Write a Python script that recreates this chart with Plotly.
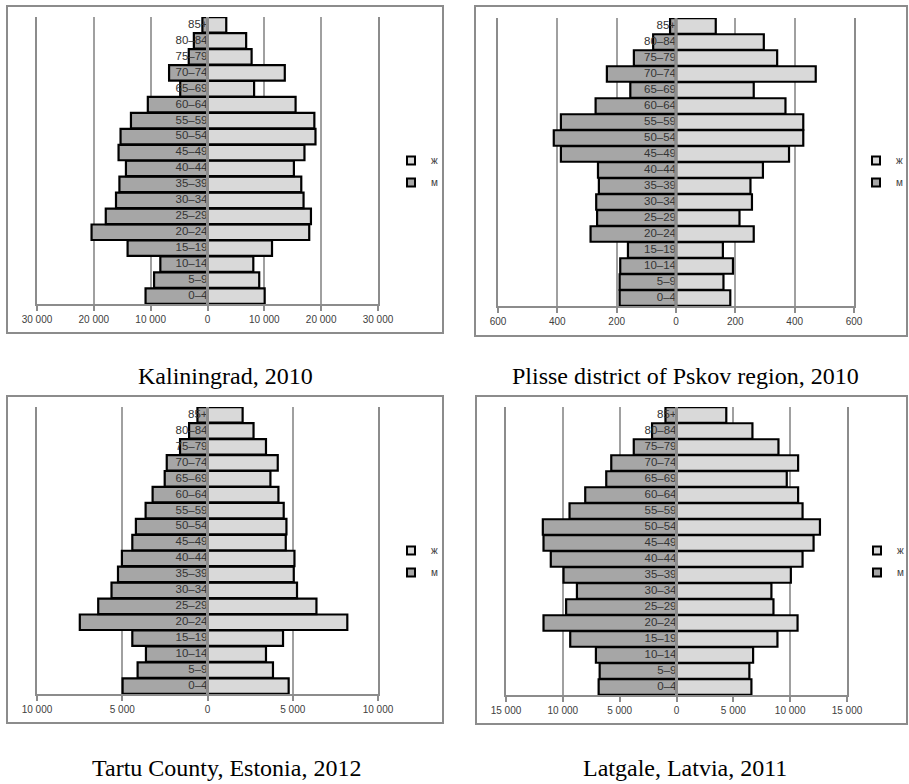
import plotly.graph_objects as go

W, H = 909, 784

ages = ["0–4", "5–9", "10–14", "15–19", "20–24", "25–29", "30–34", "35–39", "40–44",
        "45–49", "50–54", "55–59", "60–64", "65–69", "70–74", "75–79", "80–84", "85+"]

# Kaliningrad, 2010 (listed from 0-4 upward)
kal_f = [10060, 9100, 8060, 11350, 17900, 18200, 16900, 16500, 15200,
         17060, 19000, 18800, 15500, 8200, 13600, 7760, 6800, 3300]
kal_m = [10900, 9400, 8300, 14060, 20400, 17900, 16100, 15500, 14350,
         15650, 15300, 13470, 10500, 4800, 6760, 3300, 2400, 900]

# Plisse district of Pskov region, 2010
pli_f = [183, 160, 192, 158, 262, 214, 256, 251, 293,
         381, 429, 429, 369, 262, 471, 341, 296, 134]
pli_m = [190, 190, 188, 162, 288, 266, 269, 260, 263,
         388, 412, 388, 271, 154, 233, 142, 77, 20]

# Tartu County, Estonia, 2012
tar_f = [4760, 3840, 3430, 4430, 8200, 6390, 5250, 5060, 5100,
         4590, 4630, 4470, 4160, 3690, 4120, 3430, 2700, 2060]
tar_m = [4980, 4100, 3610, 4410, 7490, 6410, 5630, 5250, 5020,
         4410, 4200, 3630, 3220, 2510, 2390, 1610, 1080, 590]

# Latgale, Latvia, 2011
lat_f = [6590, 6410, 6740, 8880, 10650, 8530, 8350, 10060, 11090,
         12060, 12620, 11090, 10700, 9700, 10700, 8970, 6680, 4380]
lat_m = [6850, 6760, 7090, 9350, 11700, 9710, 8760, 9940, 11060,
         11700, 11760, 9410, 8030, 6180, 5740, 3760, 2150, 970]

captions = ["Kaliningrad, 2010", "Plisse district of Pskov region, 2010",
            "Tartu County, Estonia, 2012", "Latgale, Latvia, 2011"]

tick_vals = [
    [-30000, -20000, -10000, 0, 10000, 20000, 30000],
    [-600, -400, -200, 0, 200, 400, 600],
    [-10000, -5000, 0, 5000, 10000],
    [-15000, -10000, -5000, 0, 5000, 10000, 15000],
]
tick_text = [
    ["30 000", "20 000", "10 000", "0", "10 000", "20 000", "30 000"],
    ["600", "400", "200", "0", "200", "400", "600"],
    ["10 000", "5 000", "0", "5 000", "10 000"],
    ["15 000", "10 000", "5 000", "0", "5 000", "10 000", "15 000"],
]
legend_names = ["ж", "м"]

panels = [(kal_f, kal_m), (pli_f, pli_m), (tar_f, tar_m), (lat_f, lat_m)]

# layout geometry in pixels
plot_px = [(37, 378, 17, 304), (498, 854, 18, 306), (37, 378, 407, 694), (506, 847, 407, 695)]
frame_px = [(7, 6, 443, 333), (475, 6, 907, 336), (7, 396, 443, 723), (476, 396, 907, 724)]
caption_px = [(225, 376), (685, 376), (226, 768), (685, 768)]
legend_px = [(391, 146), (856, 146), (391, 536), (857, 536)]

F_COL = "#d9d9d9"
M_COL = "#a6a6a6"
GRID = "#a0a0a0"
AX = "#8c8c8c"

def px(x):
    return x / W

def py(y):
    return 1 - y / H

fig = go.Figure()
layout = dict(width=W, height=H,
              margin=dict(l=0, r=0, t=0, b=0, pad=0, autoexpand=False),
              paper_bgcolor="white", plot_bgcolor="white",
              barmode="overlay", bargap=0.03, showlegend=True,
              shapes=[], annotations=[])

for i, (fv, mv) in enumerate(panels):
    n = "" if i == 0 else str(i + 1)
    xa, ya = "x" + n, "y" + n
    lg = "legend" + n
    fig.add_trace(go.Bar(y=ages, x=fv, orientation="h", name=legend_names[0],
                         marker=dict(color=F_COL, line=dict(color="black", width=2.2)),
                         xaxis=xa, yaxis=ya, showlegend=False, hoverinfo="skip"))
    fig.add_trace(go.Bar(y=ages, x=[-v for v in mv], orientation="h", name=legend_names[1],
                         marker=dict(color=M_COL, line=dict(color="black", width=2.2)),
                         xaxis=xa, yaxis=ya, showlegend=False, hoverinfo="skip"))
    # legend entries (small square keys like the original)
    for name, col in zip(legend_names, [F_COL, M_COL]):
        fig.add_trace(go.Scatter(x=[None], y=[None], mode="markers", name=name,
                                 marker=dict(symbol="square", size=8, color=col,
                                             line=dict(color="black", width=2)),
                                 xaxis=xa, yaxis=ya, legend=lg, legendgroup=name + n,
                                 showlegend=True))
    fig.add_trace(go.Scatter(y=ages, x=[0] * len(ages), mode="text", text=ages,
                             textposition="middle left",
                             textfont=dict(family="Liberation Sans", size=11.5, color="#333333"),
                             xaxis=xa, yaxis=ya, showlegend=False, cliponaxis=False,
                             hoverinfo="skip"))
    x0, x1, y0, y1 = plot_px[i]
    tv = tick_vals[i]
    layout["xaxis" + n] = dict(
        domain=[px(x0), px(x1)], anchor=ya, range=[tv[0], tv[-1]], automargin=False,
        tickvals=tv, ticktext=tick_text[i], showgrid=True, gridcolor=GRID, gridwidth=1.5,
        zeroline=False, showline=True, linecolor=AX, linewidth=2,
        ticks="outside", ticklen=5, tickcolor=AX, tickwidth=1.5,
        tickfont=dict(family="Liberation Sans", size=10, color="#404040"),
        fixedrange=True)
    layout["yaxis" + n] = dict(
        domain=[py(y1), py(y0)], anchor=xa, range=[-0.5, 17.5], automargin=False,
        type="category", categoryorder="array", categoryarray=ages,
        showticklabels=False, ticks="", showgrid=False, zeroline=False,
        showline=True, mirror=True, linecolor=AX, linewidth=2, fixedrange=True)
    # centre (zero) line drawn above bars
    layout["shapes"].append(dict(type="line", xref=xa, yref=ya + " domain",
                                 x0=0, x1=0, y0=0, y1=1, layer="above",
                                 line=dict(color=AX, width=3)))
    # chart frame
    fx0, fy0, fx1, fy1 = frame_px[i]
    layout["shapes"].append(dict(type="rect", xref="paper", yref="paper",
                                 x0=px(fx0), x1=px(fx1), y0=py(fy1), y1=py(fy0),
                                 line=dict(color=AX, width=2), layer="below"))
    # caption
    cx, cy = caption_px[i]
    layout["annotations"].append(dict(text=captions[i], x=px(cx), y=py(cy),
                                      xref="paper", yref="paper", showarrow=False,
                                      xanchor="center", yanchor="middle",
                                      font=dict(family="Liberation Serif", size=24, color="black")))
    lx, ly = legend_px[i]
    layout[lg] = dict(x=px(lx), y=py(ly), xanchor="left", yanchor="top",
                      bgcolor="rgba(0,0,0,0)", borderwidth=0, traceorder="grouped",
                      tracegroupgap=3, itemwidth=30,
                      font=dict(family="Liberation Sans", size=10, color="#404040"))

fig.update_layout(**layout)
fig.write_html("out.html", config={"displayModeBar": False},
               post_script="document.body.style.margin='0';document.body.style.overflow='hidden';")
